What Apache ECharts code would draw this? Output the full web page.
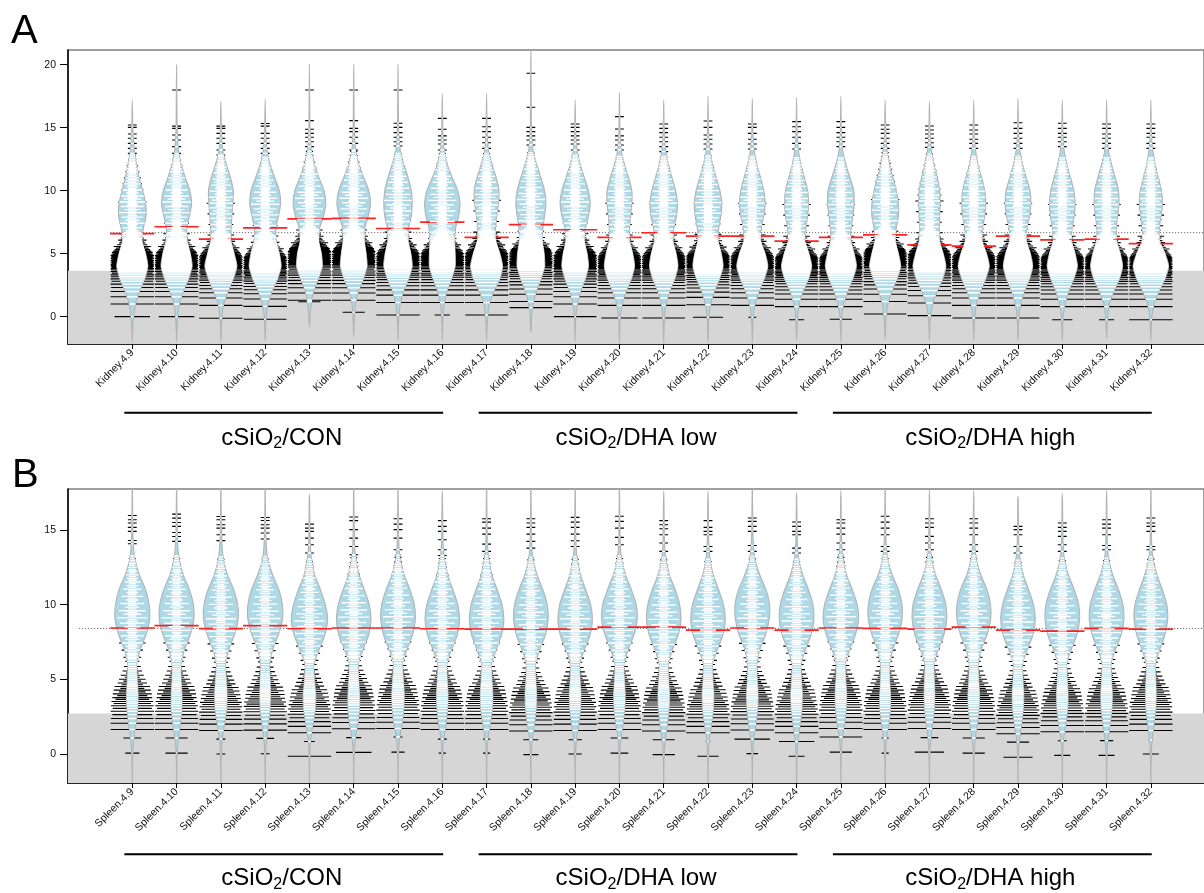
<!DOCTYPE html>
<html>
<head>
    <meta charset="utf-8">
    <title>Kidney / Spleen beanplots</title>
    <script src="https://cdn.jsdelivr.net/npm/echarts@6.0.0/dist/echarts.min.js"></script>
    <style>
        html, body { margin: 0; padding: 0; background: #fff; }
        #main { width: 1204px; height: 893px; }
    </style>
</head>
<body>
<div id="main"></div>
<script>
    // ---------- data ----------
    var kidneyNames = ['Kidney.4.9', 'Kidney.4.10', 'Kidney.4.11', 'Kidney.4.12', 'Kidney.4.13', 'Kidney.4.14',
        'Kidney.4.15', 'Kidney.4.16', 'Kidney.4.17', 'Kidney.4.18', 'Kidney.4.19', 'Kidney.4.20',
        'Kidney.4.21', 'Kidney.4.22', 'Kidney.4.23', 'Kidney.4.24', 'Kidney.4.25', 'Kidney.4.26',
        'Kidney.4.27', 'Kidney.4.28', 'Kidney.4.29', 'Kidney.4.30', 'Kidney.4.31', 'Kidney.4.32'];
    var spleenNames = ['Spleen.4.9', 'Spleen.4.10', 'Spleen.4.11', 'Spleen.4.12', 'Spleen.4.13', 'Spleen.4.14',
        'Spleen.4.15', 'Spleen.4.16', 'Spleen.4.17', 'Spleen.4.18', 'Spleen.4.19', 'Spleen.4.20',
        'Spleen.4.21', 'Spleen.4.22', 'Spleen.4.23', 'Spleen.4.24', 'Spleen.4.25', 'Spleen.4.26',
        'Spleen.4.27', 'Spleen.4.28', 'Spleen.4.29', 'Spleen.4.30', 'Spleen.4.31', 'Spleen.4.32'];

    // treatment groups: first and last sample number (1-based), label after "cSiO2"
    var groupSpans = [[1, 8], [9, 16], [17, 24]];
    var groupTails = ['/CON', '/DHA low', '/DHA high'];

    var yTicksA = [0, 5, 10, 15, 20];
    var yTicksB = [0, 5, 10, 15];

    var overallA = 6.67;    // dotted overall average
    var overallB = 8.41;
    var shadeTopA = 3.65;   // grey low-expression band
    var shadeTopB = 2.72;

    // bean averages (red)
    var meanA = [6.6, 7.14, 6.16, 7.05, 7.76, 7.8, 7.0, 7.5, 6.3, 7.3, 6.9, 6.3,
        6.66, 6.4, 6.4, 6.0, 6.3, 6.5, 5.7, 5.6, 6.4, 6.1, 6.15, 5.8];
    var meanB = [8.44, 8.6, 8.4, 8.6, 8.39, 8.44, 8.44, 8.39, 8.37, 8.37, 8.37, 8.5,
        8.5, 8.3, 8.44, 8.3, 8.44, 8.42, 8.37, 8.5, 8.3, 8.23, 8.42, 8.37];

    // bean density: half width (in sample spacing) at each knot
    var knotsA = [-1, 0, 1, 2, 3, 4, 5, 6, 7, 8, 9, 10, 11, 12, 13, 14, 15];
    var profileA = [
        [.008, .03, .07, .16, .28, .35, .3, .22, .25, .31, .3, .23, .16, .1, .05, .025, .012],
        [.008, .025, .06, .15, .27, .35, .31, .24, .23, .29, .34, .3, .2, .11, .05, .025, .012],
        [.008, .025, .06, .16, .28, .36, .3, .23, .23, .25, .27, .28, .22, .13, .05, .02, .01],
        [.008, .02, .06, .15, .28, .36, .32, .25, .24, .3, .35, .32, .22, .12, .05, .02, .01],
        [.006, .015, .04, .09, .2, .29, .27, .21, .23, .32, .37, .33, .22, .12, .05, .025, .012],
        [.006, .015, .04, .1, .22, .3, .28, .24, .25, .33, .38, .34, .23, .12, .05, .025, .012],
        [.006, .02, .05, .12, .24, .32, .29, .23, .24, .3, .32, .3, .23, .14, .06, .025, .012],
        [.006, .015, .04, .1, .21, .29, .29, .28, .3, .37, .4, .35, .23, .12, .05, .02, .01],
        [.008, .025, .06, .16, .3, .36, .3, .21, .2, .23, .27, .28, .22, .13, .05, .02, .01],
        [.006, .015, .05, .12, .23, .31, .3, .26, .27, .31, .34, .31, .23, .14, .06, .025, .012],
        [.006, .015, .05, .12, .23, .3, .27, .21, .23, .3, .34, .3, .21, .12, .05, .02, .01],
        [.008, .02, .06, .15, .27, .34, .3, .23, .23, .25, .28, .28, .21, .12, .05, .02, .01],
        [.008, .02, .05, .13, .25, .32, .28, .21, .23, .29, .31, .27, .19, .11, .05, .02, .01],
        [.008, .02, .06, .14, .26, .34, .3, .23, .24, .29, .31, .27, .19, .11, .05, .02, .01],
        [.008, .02, .06, .15, .27, .35, .29, .19, .2, .26, .29, .26, .19, .11, .05, .02, .01],
        [.008, .02, .06, .14, .27, .34, .28, .19, .2, .25, .27, .25, .18, .1, .05, .02, .01],
        [.008, .02, .06, .15, .27, .35, .3, .23, .23, .27, .3, .29, .21, .12, .05, .02, .01],
        [.008, .025, .06, .15, .27, .35, .3, .23, .25, .3, .3, .25, .18, .1, .05, .02, .01],
        [.008, .025, .07, .17, .3, .37, .31, .23, .22, .23, .24, .23, .18, .11, .05, .02, .01],
        [.008, .025, .06, .15, .27, .35, .29, .19, .2, .25, .27, .25, .18, .1, .05, .02, .01],
        [.008, .02, .06, .14, .26, .33, .28, .19, .2, .26, .29, .27, .19, .11, .05, .02, .01],
        [.008, .02, .06, .14, .26, .34, .29, .21, .22, .27, .29, .26, .19, .11, .05, .02, .01],
        [.008, .025, .06, .16, .29, .36, .31, .23, .22, .25, .28, .27, .2, .12, .05, .02, .01],
        [.008, .025, .07, .18, .32, .4, .32, .2, .19, .23, .26, .24, .17, .1, .05, .02, .01]
    ];
    var tailLoA = [-2, -2, -2, -1.95, -0.8, -1.6, -1.9, -1.9, -1.9, -1.2, -2, -2.1,
        -2.1, -2, -2.1, -1.9, -2, -1.8, -1.9, -1.9, -1.9, -1.9, -1.7, -1.9];
    var tailHiA = [17.2, 20, 17.1, 17.25, 20, 20, 20, 17.7, 17.7, 21.5, 17.2, 17.8,
        17.2, 17.5, 17.3, 17.4, 17.5, 17.2, 17.1, 17.2, 17.3, 17.2, 17.2, 17.2];

    var knotsB = [-1, 0, 1, 2, 3, 4, 5, 6, 7, 8, 9, 10, 11, 12, 13, 14, 15, 16, 17];
    var profileB = [
        [.004, .01, .035, .08, .12, .13, .11, .1, .18, .31, .39, .38, .3, .16, .06, .025, .012, .008, .005],
        [.004, .01, .035, .08, .12, .12, .1, .1, .18, .31, .39, .38, .29, .15, .06, .025, .012, .008, .005],
        [.004, .01, .03, .08, .13, .14, .12, .1, .18, .31, .39, .38, .29, .15, .06, .025, .012, .008, .005],
        [.004, .01, .03, .07, .11, .12, .11, .1, .17, .3, .39, .39, .31, .17, .06, .025, .012, .008, .005],
        [.004, .01, .03, .08, .13, .14, .11, .1, .22, .35, .41, .36, .25, .12, .05, .02, .012, .008, .005],
        [.004, .01, .035, .09, .13, .13, .11, .1, .21, .34, .39, .35, .24, .12, .05, .02, .012, .008, .005],
        [.004, .01, .035, .09, .13, .14, .12, .1, .2, .33, .39, .37, .27, .14, .05, .02, .012, .008, .005],
        [.004, .01, .03, .08, .12, .13, .11, .1, .21, .34, .39, .35, .24, .12, .05, .02, .012, .008, .005],
        [.004, .01, .03, .08, .13, .14, .12, .11, .22, .34, .39, .35, .24, .12, .05, .02, .012, .008, .005],
        [.004, .01, .03, .08, .12, .13, .11, .1, .2, .33, .39, .37, .27, .14, .05, .02, .012, .008, .005],
        [.004, .01, .03, .08, .12, .13, .11, .1, .21, .34, .39, .35, .24, .12, .05, .02, .012, .008, .005],
        [.004, .01, .03, .08, .12, .13, .11, .1, .2, .33, .4, .38, .27, .14, .05, .02, .012, .008, .005],
        [.004, .01, .035, .08, .12, .13, .11, .1, .2, .33, .39, .36, .26, .13, .05, .02, .012, .008, .005],
        [.004, .01, .03, .08, .12, .13, .11, .1, .21, .34, .39, .35, .24, .12, .05, .02, .012, .008, .005],
        [.004, .01, .03, .08, .12, .13, .11, .1, .17, .3, .38, .39, .31, .17, .06, .025, .012, .008, .005],
        [.004, .01, .035, .08, .12, .13, .11, .1, .2, .33, .39, .37, .27, .14, .05, .02, .012, .008, .005],
        [.004, .01, .03, .08, .12, .13, .11, .1, .2, .33, .4, .37, .26, .13, .05, .02, .012, .008, .005],
        [.004, .01, .03, .08, .12, .12, .1, .1, .17, .3, .38, .38, .3, .16, .06, .025, .012, .008, .005],
        [.004, .01, .03, .07, .11, .12, .11, .1, .2, .33, .39, .37, .27, .14, .05, .02, .012, .008, .005],
        [.004, .01, .035, .08, .12, .13, .11, .1, .17, .3, .38, .38, .3, .16, .06, .025, .012, .008, .005],
        [.004, .01, .03, .08, .12, .13, .11, .1, .21, .34, .39, .35, .24, .12, .05, .02, .012, .008, .005],
        [.004, .01, .03, .08, .12, .13, .11, .1, .2, .33, .39, .37, .27, .14, .05, .02, .012, .008, .005],
        [.004, .01, .035, .08, .12, .13, .11, .1, .2, .33, .39, .37, .27, .14, .05, .02, .012, .008, .005],
        [.004, .01, .03, .07, .11, .12, .11, .1, .2, .32, .38, .36, .26, .14, .05, .02, .012, .008, .005]
    ];
    var tailLoB = [-2.5, -2.5, -2.5, -2.5, -2.5, -2.5, -2.5, -2.5, -2.5, -2.5, -2.5, -2.5,
        -2.5, -2.5, -2.5, -2.5, -2.5, -2.5, -2.5, -2.5, -2.5, -2.5, -2.5, -2.5];
    var tailHiB = [18.5, 18.5, 18.5, 18.5, 17.37, 18.5, 18.5, 17.6, 18.5, 18.5, 18.5, 18.5,
        17.6, 17.6, 18.5, 17.5, 17.65, 18.5, 17.7, 17.65, 17.26, 17.45, 17.65, 18.5];

    // beanlines: [value, half length]; the lowest ones are read per sample
    var lowestA = [[[0, .4]], [[0, .4]], [[-.13, .49]], [[-.2, .48]], [[1.19, .25]], [[.35, .25]],
        [[.13, .49]], [[.13, .17]], [[.13, .48]], [[.72, .48]], [[0, .48]], [[-.1, .41]],
        [[-.1, .48]], [[-.05, .34]], [[-.05, .09]], [[-.25, .17]], [[-.2, .25]], [[.21, .48]],
        [[.08, .49]], [[-.1, .48]], [[-.1, .48]], [[-.25, .23]], [[-.25, .17]], [[-.25, .49]]];
    var lowestB = [[[.06, .16], [1.07, .2]], [[.06, .25], [1.07, .25]], [[0, .1], [1.0, .1]],
        [[.02, .1], [1.05, .2]], [[-.15, .49], [.84, .12]], [[.11, .4], [1.1, .17]],
        [[.13, .15], [1.14, .1]], [[.06, .08], [1.0, .1]], [[.06, .08], [1.0, .08]],
        [[-.04, .17], [.96, .17]], [[0, .15], [.96, .15]], [[.06, .2], [1.07, .2]],
        [[-.04, .25], [.96, .25]], [[-.15, .24], [.84, .05]], [[.03, .13], [1.0, .4]],
        [[-.15, .18], [.84, .4]], [[.13, .25], [1.14, .48]], [[.06, .08], [1.07, .08]],
        [[.13, .33], [1.1, .2]], [[.06, .25], [1.07, .25]], [[-.22, .33], [.8, .25]],
        [[-.09, .18], [.89, .1]], [[-.09, .18], [.9, .15]], [[0, .18], [.96, .05]]];

    // floor of each sample (single-count level); the shared line pattern sits on it
    var floorA = [0, 0, -.1, -.18, .3, .3, .13, .13, .13, .2, 0, -.1,
        -.1, -.05, -.1, -.2, -.2, .2, .08, -.1, -.1, -.2, -.2, -.2];
    var floorB = [.06, .06, 0, .02, -.15, .11, .13, .06, .06, -.04, 0, .06,
        -.04, -.15, .03, -.15, .13, .06, .13, .06, -.22, -.09, -.09, 0];

    var denseA = [[1.0, .49], [1.58, .49], [2.0, .49], [2.32, .48], [2.58, .49], [2.81, .47], [3.0, .49],
        [3.17, .48], [3.32, .49], [3.46, .46], [3.58, .49], [3.7, .48], [3.81, .49], [3.91, .47],
        [4.0, .49], [4.09, .48], [4.17, .49], [4.25, .46], [4.32, .49], [4.39, .47], [4.46, .49],
        [4.52, .45], [4.58, .48], [4.64, .49], [4.7, .44], [4.75, .48], [4.81, .46], [4.86, .49],
        [4.91, .43], [4.95, .47], [5.0, .45], [5.05, .4], [5.1, .46], [5.15, .36], [5.2, .43],
        [5.26, .32], [5.32, .4], [5.38, .28], [5.44, .37], [5.5, .3], [5.57, .42], [5.64, .25],
        [5.71, .34], [5.78, .22], [5.85, .3], [5.93, .27], [6.0, .2], [6.08, .32], [6.16, .18],
        [6.25, .26], [6.34, .15], [6.44, .24], [6.55, .13], [6.66, .2], [6.8, .12]];
    var denseB = [[1.58, .49], [2.0, .49], [2.32, .48], [2.58, .45], [2.81, .49], [3.0, .44], [3.17, .48],
        [3.32, .42], [3.46, .47], [3.6, .38], [3.72, .45], [3.85, .34], [3.97, .44], [4.1, .3],
        [4.22, .42], [4.34, .27], [4.46, .4], [4.58, .24], [4.7, .33], [4.82, .2], [4.95, .3],
        [5.08, .17], [5.22, .26], [5.36, .14], [5.5, .22], [5.65, .12], [5.8, .19], [5.97, .1],
        [6.15, .16], [6.35, .09], [6.6, .13]];
    var upperA = [[5.5, .1], [5.62, .2], [5.74, .09], [5.86, .13], [5.98, .1], [6.1, .26], [6.22, .09],
        [6.34, .12], [6.46, .1], [6.58, .3], [6.7, .09], [6.82, .15], [6.94, .1], [7.06, .22],
        [7.18, .09], [7.3, .12], [7.42, .28], [7.54, .1], [7.66, .16], [7.78, .09], [7.9, .24],
        [8.02, .11], [8.14, .09], [8.26, .3], [8.38, .1], [8.5, .18], [8.62, .09], [8.74, .26],
        [8.86, .12], [8.98, .1], [9.1, .32], [9.22, .09], [9.34, .2], [9.46, .11], [9.58, .27],
        [9.7, .09], [9.82, .14], [9.94, .1], [10.06, .25], [10.18, .09], [10.3, .13], [10.42, .1],
        [10.54, .22], [10.66, .09], [10.78, .15], [10.9, .1], [11.02, .19], [11.14, .09],
        [11.26, .12], [11.38, .08], [11.5, .16], [11.62, .09], [11.74, .12], [11.86, .08],
        [11.98, .13], [12.1, .07], [12.22, .1], [12.36, .07], [12.5, .09], [12.66, .06], [12.82, .08]];
    var upperB = [[6.3, .1], [6.42, .2], [6.54, .09], [6.66, .13], [6.78, .1], [6.9, .24], [7.02, .09],
        [7.14, .14], [7.26, .1], [7.38, .3], [7.5, .09], [7.62, .16], [7.74, .11], [7.86, .26],
        [7.98, .09], [8.1, .12], [8.22, .33], [8.34, .1], [8.46, .18], [8.58, .09], [8.7, .28],
        [8.82, .12], [8.94, .1], [9.06, .34], [9.18, .09], [9.3, .2], [9.42, .11], [9.54, .3],
        [9.66, .09], [9.78, .16], [9.9, .1], [10.02, .27], [10.14, .09], [10.26, .14], [10.38, .1],
        [10.5, .24], [10.62, .09], [10.74, .13], [10.86, .1], [10.98, .2], [11.1, .09], [11.22, .14],
        [11.34, .08], [11.46, .17], [11.58, .09], [11.7, .12], [11.82, .08], [11.94, .14],
        [12.06, .07], [12.18, .11], [12.3, .08], [12.44, .1], [12.58, .07], [12.72, .09],
        [12.88, .06], [13.04, .08], [13.2, .06]];

    // single high values sticking out above each bean
    var topA = [
        [15.21, 15.03, 14.5, 14.16, 13.76, 13.36, 12.96], [18.0, 15.13, 14.95, 14.42, 14.02, 13.5, 12.96],
        [15.13, 14.95, 14.55, 14.16, 13.76, 13.23, 12.83], [15.34, 15.13, 14.55, 14.16, 13.76, 13.36, 12.96],
        [18.0, 15.56, 14.88, 14.55, 14.24, 13.89, 13.5], [18.0, 15.56, 14.95, 14.69, 14.24, 13.76, 13.23],
        [18.0, 15.35, 15.03, 14.61, 14.24, 13.89, 13.55], [15.74, 14.88, 14.35, 14.03, 13.71, 13.23],
        [15.74, 15.08, 14.69, 14.24, 13.81, 13.36], [19.32, 16.62, 15.03, 14.69, 14.35, 14.03, 13.63],
        [15.3, 15.03, 14.69, 14.35, 14.03, 13.71, 13.23], [15.88, 14.9, 14.35, 14.03, 13.63, 13.23],
        [15.3, 14.95, 14.61, 14.24, 13.89, 13.5, 13.1], [15.53, 15.03, 14.42, 14.08, 13.71, 13.31],
        [15.3, 15.03, 14.55, 14.08, 13.71, 13.31], [15.48, 15.08, 14.69, 14.24, 13.76, 13.31],
        [15.48, 15.03, 14.61, 14.24, 13.89, 13.5], [15.22, 14.88, 14.55, 14.16, 13.76, 13.36],
        [15.14, 14.82, 14.5, 14.16, 13.81, 13.44], [15.22, 14.82, 14.5, 14.08, 13.76, 13.36],
        [15.4, 14.95, 14.55, 14.16, 13.76, 13.36], [15.35, 14.95, 14.55, 14.24, 13.89, 13.5],
        [15.3, 14.95, 14.5, 14.16, 13.76, 13.36], [15.3, 14.95, 14.55, 14.24, 13.76, 13.36]
    ];
    var topB = [
        [15.98, 15.69, 15.47, 15.18, 14.91, 14.3, 14.08], [16.07, 15.8, 15.51, 15.25, 14.84, 14.57, 14.24],
        [15.91, 15.69, 15.36, 15.13, 14.69, 14.29], [15.84, 15.64, 15.36, 15.13, 14.8, 14.4],
        [15.4, 15.13, 14.91, 14.46, 14.02, 13.46], [15.87, 15.63, 15.03, 14.46, 13.9, 13.35],
        [15.76, 15.4, 15.03, 14.46, 13.68], [15.63, 15.25, 14.91, 14.35, 13.68, 13.3],
        [15.76, 15.53, 15.13, 14.73, 14.06, 13.57], [15.76, 15.47, 15.18, 14.73, 14.24, 13.79],
        [15.85, 15.53, 15.18, 14.73, 14.28, 13.9], [15.92, 15.58, 15.13, 14.51, 14.02],
        [15.63, 15.36, 15.09, 14.69, 14.13, 13.57], [15.63, 15.18, 14.91, 14.69, 13.9, 13.57],
        [15.81, 15.58, 15.25, 14.91, 13.97, 13.57], [15.54, 15.25, 14.91, 14.69, 13.79, 13.46],
        [15.69, 15.47, 15.13, 14.73, 14.13, 13.68], [15.92, 15.53, 15.13, 14.69, 13.9, 13.57],
        [15.76, 15.47, 15.18, 14.58, 14.13, 13.68], [15.76, 15.47, 15.13, 14.69, 14.02, 13.57],
        [15.25, 15.03, 14.69, 13.9, 13.46], [15.47, 15.18, 14.91, 14.58, 14.02, 13.57],
        [15.69, 15.4, 15.13, 14.69, 13.97, 13.68], [15.81, 15.47, 15.25, 14.91, 13.9, 13.68]
    ];

    // ---------- layout ----------
    var FONT = 'Liberation Sans, Arial, Helvetica, sans-serif';
    var X_MIN = -0.452, X_MAX = 25.2;
    var Y_A = [-2.17, 21.17], Y_B = [-1.94, 17.75];
    var DASH = 0.1;         // half length of a single-value beanline

    var chart = echarts.init(document.getElementById('main'));

    // grey band + dotted overall average
    function backdrop(yRange, shadeTop, overall, dotFrom) {
        return function (params, api) {
            var a = api.coord([X_MIN, yRange[0]]);
            var b = api.coord([X_MAX, shadeTop]);
            var d0 = api.coord([dotFrom, overall]);
            var d1 = api.coord([X_MAX, overall]);
            return {
                type: 'group',
                children: [
                    { type: 'rect', shape: { x: a[0], y: b[1], width: b[0] - a[0], height: a[1] - b[1] }, style: { fill: '#d6d6d6' } },
                    { type: 'line', shape: { x1: d0[0], y1: d0[1], x2: d1[0], y2: d1[1] }, style: { stroke: '#555', lineWidth: 1, lineDash: [1, 2] } }
                ]
            };
        };
    }

    // one bean: black beanlines, blue density, red average, white part of the beanlines inside the bean
    function beans(p) {
        return function (params, api) {
            var i = params.dataIndex;
            var cx = api.value(0);
            var lo = p.tailLo[i], hi = p.tailHi[i];
            var outline = [[lo, 0]];
            p.knots.forEach(function (y, k) {
                if (y > lo && y < hi) outline.push([y, p.profile[i][k]]);
            });
            outline.push([hi, 0]);

            function halfAt(y) {
                if (y <= lo || y >= hi) return 0;
                for (var k = 1; k < outline.length; k++) {
                    if (y <= outline[k][0]) {
                        var a = outline[k - 1], b = outline[k];
                        return a[1] + (b[1] - a[1]) * (y - a[0]) / (b[0] - a[0]);
                    }
                }
                return 0;
            }

            var pts = [];
            outline.forEach(function (o) { pts.push(api.coord([cx - o[1], o[0]])); });
            for (var k = outline.length - 2; k >= 1; k--) {
                pts.push(api.coord([cx + outline[k][1], outline[k][0]]));
            }

            var lines = p.lowest[i].slice();
            p.dense.forEach(function (d) { lines.push([d[0] + p.floor[i], d[1]]); });
            p.upper.forEach(function (d) { lines.push([d[0] + p.floor[i], d[1]]); });
            p.tops[i].forEach(function (v) { lines.push([v, DASH]); });

            var black = '', white = '';
            lines.forEach(function (l) {
                var a = api.coord([cx - l[1], l[0]]), b = api.coord([cx + l[1], l[0]]);
                black += 'M' + a[0].toFixed(2) + ' ' + a[1].toFixed(2) + ' L' + b[0].toFixed(2) + ' ' + b[1].toFixed(2) + ' ';
                var w = Math.min(l[1], halfAt(l[0]));
                if (w > 0.004) {
                    a = api.coord([cx - w, l[0]]);
                    b = api.coord([cx + w, l[0]]);
                    white += 'M' + a[0].toFixed(2) + ' ' + a[1].toFixed(2) + ' L' + b[0].toFixed(2) + ' ' + b[1].toFixed(2) + ' ';
                }
            });

            var m0 = api.coord([cx - 0.5, p.mean[i]]), m1 = api.coord([cx + 0.5, p.mean[i]]);
            return {
                type: 'group',
                children: [
                    { type: 'path', shape: { pathData: black }, style: { fill: null, stroke: '#000', lineWidth: 1.1 } },
                    { type: 'polygon', shape: { points: pts, smooth: 0.3 }, style: { fill: '#add8e6', stroke: '#b4b4b4', lineWidth: 1.1 } },
                    { type: 'line', shape: { x1: m0[0], y1: m0[1], x2: m1[0], y2: m1[1] }, style: { stroke: '#ff2020', lineWidth: 1.7 } },
                    { type: 'path', shape: { pathData: white }, style: { fill: null, stroke: '#fff', lineWidth: 1.4 } }
                ]
            };
        };
    }

    function xAxis(gi, names) {
        var ticks = names.map(function (n, i) { return i + 1; });
        return {
            type: 'value', gridIndex: gi, min: X_MIN, max: X_MAX,
            axisLine: { onZero: false, lineStyle: { color: '#000', width: 1.5 } },
            axisTick: { customValues: ticks, length: 5, lineStyle: { color: '#000', width: 1 } },
            axisLabel: {
                customValues: ticks, rotate: 45, margin: 7, fontSize: 10.5, color: '#111', fontFamily: FONT,
                formatter: function (v) { return names[Math.round(v) - 1] || ''; }
            },
            splitLine: { show: false }
        };
    }

    function yAxis(gi, range, ticks) {
        return {
            type: 'value', gridIndex: gi, min: range[0], max: range[1],
            axisLine: { show: true, onZero: false, lineStyle: { color: '#000', width: 1.5 } },
            axisTick: { show: true, customValues: ticks, length: 8, lineStyle: { color: '#000', width: 1 } },
            axisLabel: { customValues: ticks, margin: 12, fontSize: 10.5, color: '#111', fontFamily: FONT },
            splitLine: { show: false }
        };
    }

    function sampleIndex(names) {
        return names.map(function (n, i) { return [i + 1]; });
    }

    var option = {
        animation: false,
        backgroundColor: '#fff',
        textStyle: { fontFamily: FONT },
        grid: [
            { left: 68, right: 0, top: 50, height: 294, show: true, borderColor: '#808080', borderWidth: 1.5 },
            { left: 68, right: 0, top: 489, height: 294, show: true, borderColor: '#808080', borderWidth: 1.5 }
        ],
        xAxis: [xAxis(0, kidneyNames), xAxis(1, spleenNames)],
        yAxis: [yAxis(0, Y_A, yTicksA), yAxis(1, Y_B, yTicksB)],
        series: [
            {
                type: 'custom', xAxisIndex: 0, yAxisIndex: 0, silent: true, clip: true, z: 1,
                data: [[0]], renderItem: backdrop(Y_A, shadeTopA, overallA, 0.5)
            },
            {
                type: 'custom', xAxisIndex: 1, yAxisIndex: 1, silent: true, clip: true, z: 1,
                data: [[0]], renderItem: backdrop(Y_B, shadeTopB, overallB, -0.2)
            },
            {
                type: 'custom', xAxisIndex: 0, yAxisIndex: 0, silent: true, clip: true, z: 2,
                data: sampleIndex(kidneyNames),
                renderItem: beans({
                    knots: knotsA, profile: profileA, tailLo: tailLoA, tailHi: tailHiA, mean: meanA,
                    lowest: lowestA, floor: floorA, dense: denseA, upper: upperA, tops: topA
                })
            },
            {
                type: 'custom', xAxisIndex: 1, yAxisIndex: 1, silent: true, clip: true, z: 2,
                data: sampleIndex(spleenNames),
                renderItem: beans({
                    knots: knotsB, profile: profileB, tailLo: tailLoB, tailHi: tailHiB, mean: meanB,
                    lowest: lowestB, floor: floorB, dense: denseB, upper: upperB, tops: topB
                })
            }
        ]
    };
    chart.setOption(option);

    // group bars and labels under each panel, placed with the x scale
    function groupMarks(gi, barY, textTop) {
        var els = [];
        groupSpans.forEach(function (g, j) {
            var x1 = chart.convertToPixel({ gridIndex: gi }, [g[0] - 0.18, 0])[0];
            var x2 = chart.convertToPixel({ gridIndex: gi }, [g[1] + 0.02, 0])[0];
            els.push({ type: 'line', shape: { x1: x1, y1: barY, x2: x2, y2: barY }, style: { stroke: '#000', lineWidth: 2 } });
            els.push({
                type: 'text', x: (x1 + x2) / 2 - 2, y: textTop,
                style: {
                    text: '{n|cSiO}{s|2}{n|' + groupTails[j] + '}',
                    align: 'center', verticalAlign: 'top', textAlign: 'center', textVerticalAlign: 'top',
                    fill: '#000',
                    rich: {
                        n: { fontSize: 24, lineHeight: 28, fontFamily: FONT, fill: '#000' },
                        s: { fontSize: 16, lineHeight: 16, verticalAlign: 'bottom', fontFamily: FONT, fill: '#000' }
                    }
                }
            });
        });
        return els;
    }

    var panelLetters = [
        { type: 'text', x: 11, y: 32, style: { text: 'A', fontSize: 40, fontFamily: FONT, fill: '#000', verticalAlign: 'middle', textVerticalAlign: 'middle' } },
        { type: 'text', x: 12, y: 476, style: { text: 'B', fontSize: 40, fontFamily: FONT, fill: '#000', verticalAlign: 'middle', textVerticalAlign: 'middle' } }
    ];

    chart.setOption({
        graphic: { elements: panelLetters.concat(groupMarks(0, 412.7, 424), groupMarks(1, 854.3, 864.5)) }
    });
</script>
</body>
</html>
